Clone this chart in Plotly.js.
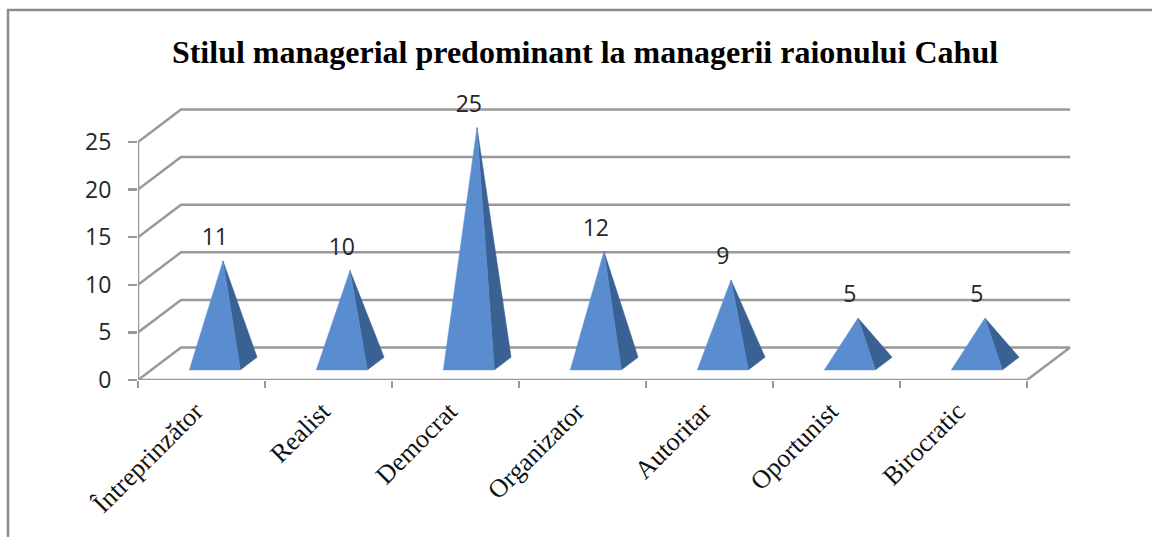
<!DOCTYPE html>
<html>
<head>
<meta charset="utf-8">
<script src="https://cdn.plot.ly/plotly-3.0.1.min.js"></script>
<style>html,body{margin:0;padding:0;background:#fff;overflow:hidden}#chart{width:1152px;height:537px}</style>
</head>
<body>
<div id="chart"></div>
<script>
const categories = ["Întreprinzător","Realist","Democrat","Organizator","Autoritar","Oportunist","Birocratic"];
const values = [11,10,25,12,9,5,5];
const gridValues = [0,5,10,15,20,25];
const titleText = "Stilul managerial predominant la managerii raionului Cahul";

const W=1152,H=537, L=138,R=81,T=100,B=157;
const pxX=127, pxY=9.52;               // pixels per category / per value unit
const xMax=(W-L-R)/pxX, yMax=(H-T-B)/pxY;
const dX=43/pxX, dY=32.5/pxY;          // oblique projection of the floor depth
const n=categories.length;
const GRID='#999999', FRONT='#5a8dcf', SIDE='#3a6193';
const px=(d)=>d*dX, py=(d)=>d*dY;

const traces=[];
const base={hoverinfo:'skip',showlegend:false,type:'scatter'};
// walls and floor
gridValues.forEach(v=>{
  traces.push({...base,mode:'lines',line:{color:GRID,width:2.5},
    x:[0,dX,n+dX],y:[v,v+dY,v+dY]});
});
traces.push({...base,mode:'lines',line:{color:GRID,width:2.5},
  x:[0,n,n+dX],y:[0,0,dY]});
traces.push({...base,xaxis:'x2',mode:'lines',line:{color:GRID,width:2.5},
  x:[0,0],y:[0,gridValues[gridValues.length-1]]});

// pyramids
const halfW=25.5/pxX;
values.forEach((v,i)=>{
  const c=i+0.5;
  const fd=0.31, bd=0.70, ad=0.515;
  const apex=[c+px(ad)-0.005, v+py(ad)-0.25];
  const fl=[c-halfW+px(fd),py(fd)], fr=[c+halfW+px(fd),py(fd)], br=[c+halfW+px(bd),py(bd)];
  traces.push({...base,mode:'lines',fill:'toself',fillcolor:SIDE,line:{color:SIDE,width:0.5},
    x:[fr[0],br[0],apex[0],fr[0]],y:[fr[1],br[1],apex[1],fr[1]]});
  traces.push({...base,mode:'lines',fill:'toself',fillcolor:FRONT,line:{color:FRONT,width:0.5},
    x:[fl[0],fr[0],apex[0],fl[0]],y:[fl[1],fr[1],apex[1],fl[1]]});
});

// data labels
traces.push({...base,mode:'text',cliponaxis:false,
  x:values.map((v,i)=>i+0.5+px(0.31)),
  y:values.map(v=>v+py(0.515)-0.25+21.5/pxY),
  text:values.map(String),textposition:'middle center',
  textfont:{family:'"Open Sans",sans-serif',size:23,color:'#262626'}});

const layout={
  width:W,height:H,autosize:false,
  paper_bgcolor:'#fff',plot_bgcolor:'rgba(0,0,0,0)',
  margin:{l:L,r:R,t:T,b:B,pad:0},
  showlegend:false,
  title:{text:'<b>'+titleText+'</b>',x:585/W,xanchor:'center',y:1-52/H,yanchor:'middle',
    font:{family:'"Liberation Serif",serif',size:32,color:'#000'}},
  xaxis:{range:[0,xMax],tickmode:'array',tickvals:categories.map((c,i)=>i+0.5-6/pxX),ticktext:categories,
    ticks:'',tickangle:-45,ticklabelstandoff:10,showgrid:false,zeroline:false,showline:false,
    tickfont:{family:'"Liberation Serif",serif',size:26,color:'#111'}},
  xaxis2:{overlaying:'x',anchor:'y',side:'bottom',range:[0,xMax],tickmode:'array',
    tickvals:Array.from({length:n+1},(_,i)=>i),showticklabels:false,ticks:'outside',ticklen:7,tickwidth:2.5,tickcolor:GRID,
    showgrid:false,zeroline:false,showline:false},
  yaxis:{range:[0,yMax],tickmode:'array',tickvals:gridValues,ticktext:gridValues.map(String),
    ticks:'outside',ticklen:9,tickwidth:2.5,tickcolor:GRID,ticklabelstandoff:12,showgrid:false,zeroline:false,showline:false,
    tickfont:{family:'"Open Sans",sans-serif',size:23,color:'#262626'}},
  shapes:[{type:'path',xref:'paper',yref:'paper',layer:'below',
    path:`M ${(8-L)/(W-L-R)} ${-B/(H-T-B)} L ${(8-L)/(W-L-R)} ${(H-B-10)/(H-T-B)} L ${(W-L)/(W-L-R)} ${(H-B-10)/(H-T-B)}`,
    line:{color:'#8c8c8c',width:2.5}}]
};
Plotly.newPlot('chart',traces,layout,{displayModeBar:false,staticPlot:true});
</script>
</body>
</html>
